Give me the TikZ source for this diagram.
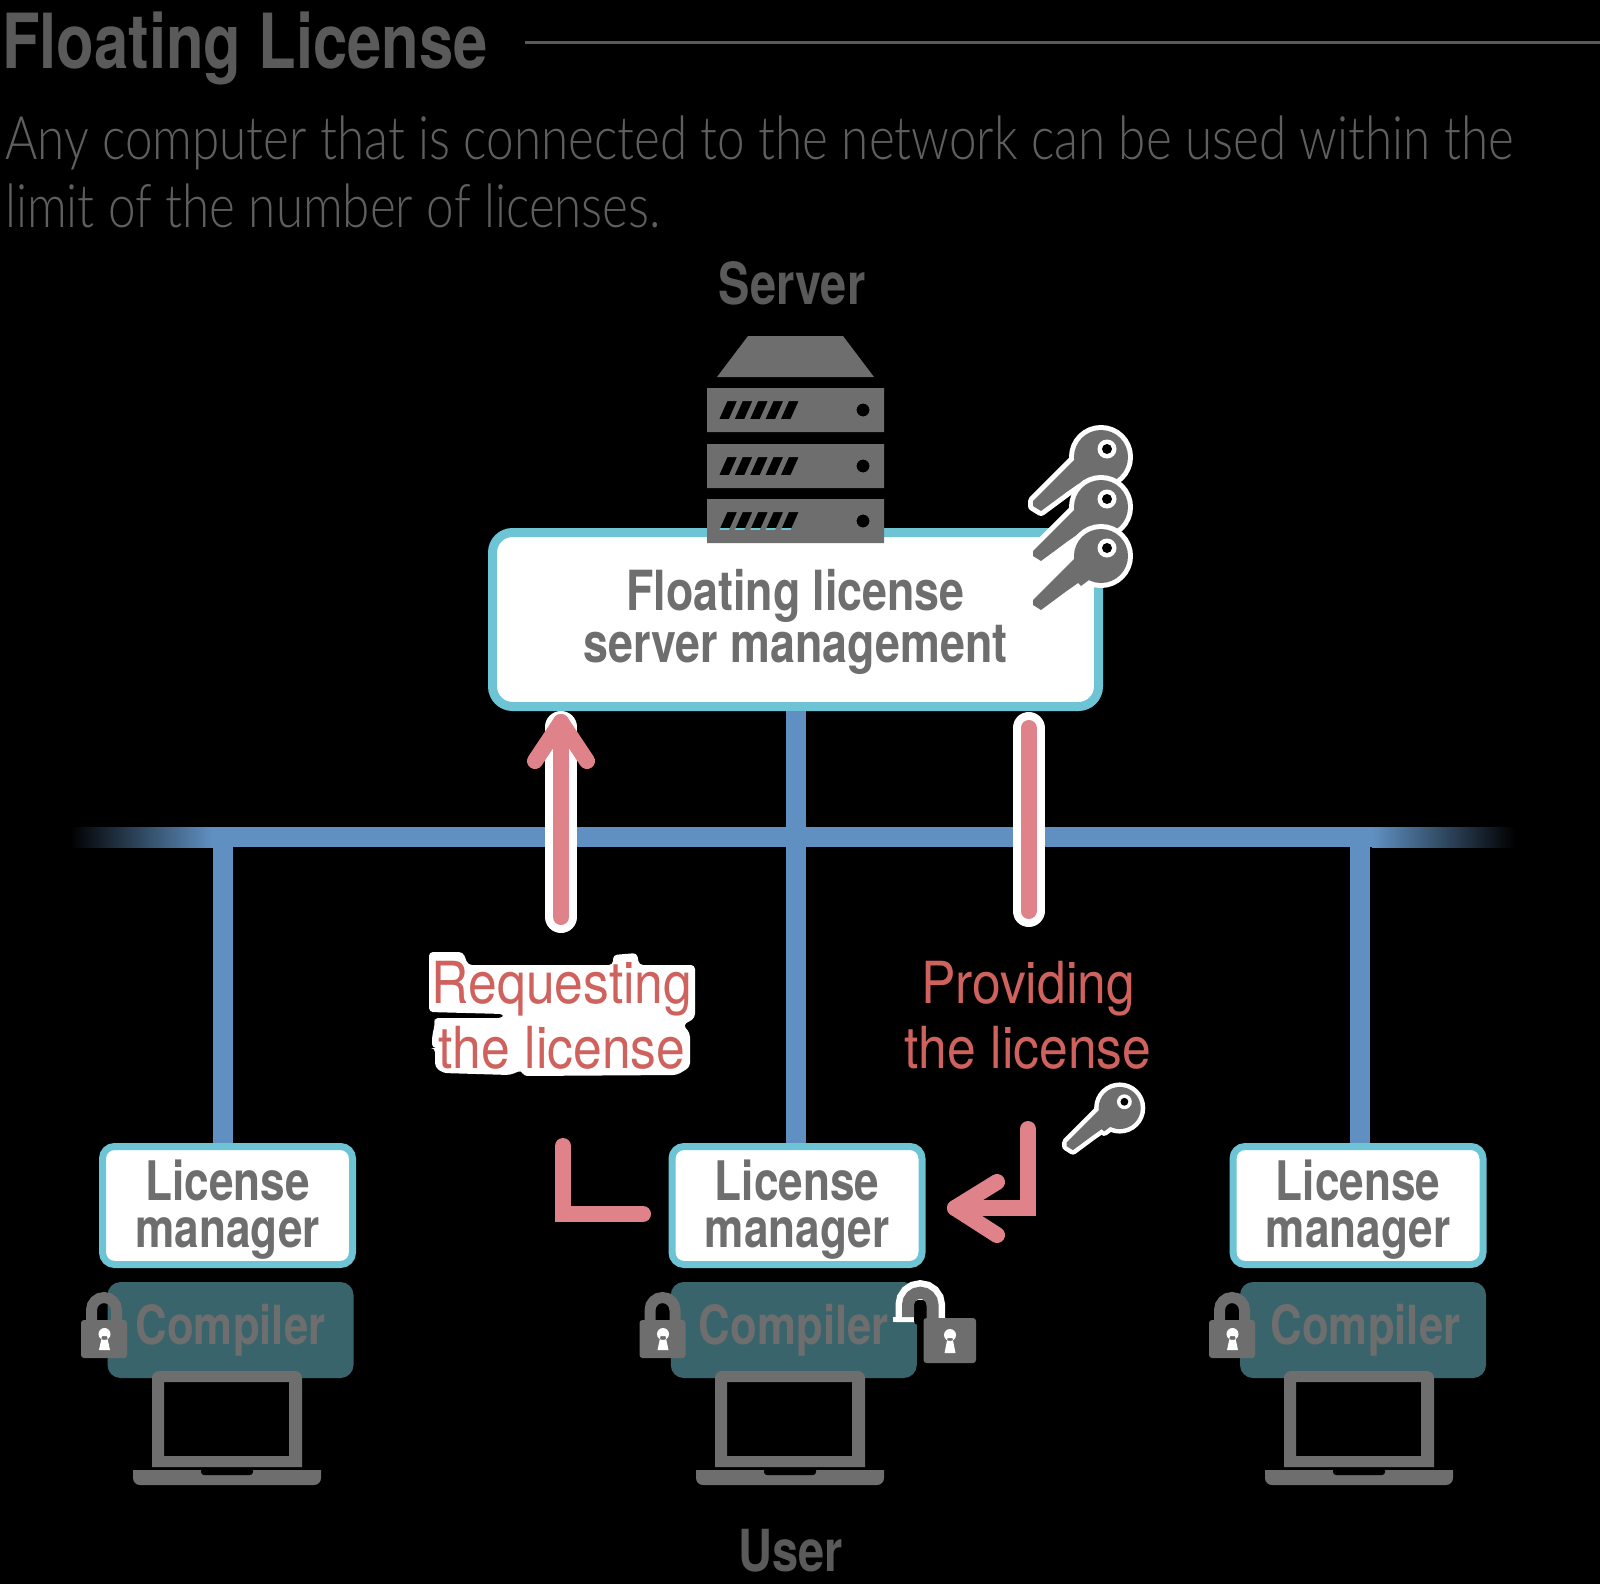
\documentclass[tikz,border=0pt]{standalone}
\usepackage{fontspec}
\setmainfont{TeX Gyre Heros}
\newfontfamily\hbfam[FakeStretch=.81]{TeX Gyre Heros}
\newfontfamily\hrfam[FakeStretch=.89]{TeX Gyre Heros}
\newfontfamily\hlfam[FakeStretch=.823]{Lato Light}
\newcommand{\fsz}[2]{\fontsize{#1}{#2}\selectfont}
\definecolor{bg}{HTML}{000000}
\definecolor{titlegray}{HTML}{5A5A5A}
\definecolor{descgray}{HTML}{5F5F5F}
\definecolor{icongray}{HTML}{6E6E6E}
\definecolor{frameteal}{HTML}{6CC4D4}
\definecolor{compteal}{HTML}{3A646B}
\definecolor{netblue}{HTML}{6090C2}
\definecolor{pinkbar}{HTML}{E0828A}
\definecolor{redtext}{HTML}{D0625E}
\tikzset{
  lmbox/.style={draw=frameteal,fill=white,line width=7pt,rounded corners=12pt,minimum width=250pt,minimum height=118pt,inner sep=0pt,align=center,text=icongray,font=\hbfam\bfseries\fsz{54.5}{47}},
  compbox/.style={fill=compteal,rounded corners=13pt,minimum width=246pt,minimum height=96pt,inner sep=0pt,text=icongray,font=\hbfam\bfseries\fsz{54}{54},text height=40pt,text depth=12pt},
  netline/.style={netblue,line width=20pt},
  pinkline/.style={pinkbar,line width=16pt,line cap=round},
  halo/.style={white,line width=32pt,line cap=round},
  redlabel/.style={text=redtext,align=center,font=\hrfam\fsz{58}{64.5},inner sep=0pt},
}
\newcommand{\LockAt}[2]{\begin{scope}[shift={(#1,#2)}]
  \draw[icongray,line width=11pt] (10.5,30) -- (10.5,18) arc (180:360:12.5) -- (35.5,30);
  \fill[icongray,rounded corners=3pt] (0,28) rectangle (46,66);
  \fill[white] (23.5,42) circle (6) (21,44) -- (18,58) -- (29,58) -- (26,44) -- cycle;
\end{scope}}
\newcommand{\LaptopAt}[2]{\begin{scope}[shift={(#1,#2)}]
  \fill[icongray,even odd rule] [rounded corners=7pt] (0,50) -- (0,0) -- (150,0) -- (150,50) [sharp corners] -- (150,96) -- (0,96) -- cycle (12,11) rectangle (137,85);
  \fill[icongray] [sharp corners] (-19,99) -- (169,99) [rounded corners=7pt] -- (169,114) -- (-19,114) [sharp corners] -- cycle;
  \fill[black,rounded corners=3pt] (49,97) -- (49,104) -- (101,104) -- (101,97) -- cycle;
\end{scope}}
\newcommand{\KeyAt}[4]{\begin{scope}[shift={(#1,#2)},scale=#3]
  \def\keyhead{(0,0) circle (27)}
  \def\keyblade{(-26,2) -- (-68,44) -- (-68,49) -- (-60,54) -- (-33,34) -- (-30,32) -- (-23,27) -- (-20,30) -- (-16,27) -- (-8,21) -- (-8,0) -- cycle}
  \draw[white,line width=#4,line join=round] \keyhead;
  \draw[white,line width=#4,line join=round] \keyblade;
  \fill[icongray] \keyhead;
  \fill[icongray] \keyblade;
  \fill[white] (6,-8) circle (9.5);
  \fill[black] (6,-8) circle (5);
\end{scope}}
\newcommand{\RackAt}[1]{\begin{scope}[shift={(707,#1)}]
  \fill[icongray,even odd rule] (0,0) rectangle (177,44)
    (156,22) circle (6.5)
    \foreach \i in {0,1,2,3,4} { ({12.3+15.4*\i},31) -- ({22+15.4*\i},31) -- ({30+15.4*\i},13) -- ({20.3+15.4*\i},13) -- cycle };
\end{scope}}
\begin{document}
\begin{tikzpicture}[x=1pt,y=-1pt]
\useasboundingbox (0,0) rectangle (1600,1584);
\fill[bg] (0,0) rectangle (1600,1584);

% heading
\node[anchor=base west,inner sep=0pt,text=titlegray,font=\hbfam\bfseries\fsz{76}{76}] (title) at (2,69) {Floating License};
\coordinate (ruleEnd) at (1600,42.5);
\draw[titlegray,line width=3pt] (525,42.5) -- (ruleEnd);
\node[anchor=base west,inner sep=0pt,text=descgray,font=\hlfam\fsz{60}{67}] (desc1) at (5,160) {Any computer that is connected to the network can be used within the};
\node[anchor=base west,inner sep=0pt,text=descgray,font=\hlfam\fsz{60}{67}] (desc2) at (5,227) {limit of the number of licenses.};
\node[anchor=base,inner sep=0pt,text=titlegray,font=\hbfam\bfseries\fsz{58}{58}] (serverlabel) at (792,304) {Server};
\node[anchor=base,inner sep=0pt,text=titlegray,font=\hbfam\bfseries\fsz{58}{58}] (userlabel) at (791,1571) {User};

% boxes
\node[draw=frameteal,fill=white,line width=9pt,rounded corners=20pt,minimum width=606pt,minimum height=174pt,inner sep=0pt,align=center,text=icongray,font=\hbfam\bfseries\fsz{55.3}{52}] (srv) at (795.5,619.5) {\rule{0pt}{46pt}Floating license\\server management};
\node[lmbox] (lmA) at (227.5,1205.5) {\rule{0pt}{48pt}License\\manager};
\node[lmbox] (lmB) at (797,1205.5) {\rule{0pt}{48pt}License\\manager};
\node[lmbox] (lmC) at (1358,1205.5) {\rule{0pt}{48pt}License\\manager};

% network
\coordinate (busL) at (213,837);
\coordinate (busR) at (1372,837);
\coordinate (legA) at (223,837);
\coordinate (legC) at (1360,837);
\shade[left color=black,middle color=netblue!30!black,right color=netblue] (70,827) rectangle (213,847);
\shade[left color=netblue,middle color=netblue!30!black,right color=black] (1372,827) rectangle (1515,847);
\draw[netline] (busL) -- (busR);
\draw[netline] (legA) -- (legA |- lmA.north);
\draw[netline] (legC) -- (legC |- lmC.north);
\draw[netline] (srv.south) -- (srv.south |- lmB.north);

% server icon
\fill[icongray] (748,336) -- (843,336) -- (874,377) -- (717,377) -- cycle;
\RackAt{388}
\RackAt{444}
\RackAt{499}
\KeyAt{1101}{457}{1}{10pt}
\KeyAt{1101}{507}{1}{10pt}
\KeyAt{1101}{556}{1}{10pt}

% request arrow
\coordinate (reqTail) at (561,917);
\coordinate (reqHead) at (561,727);
\coordinate (reqTip) at (561,722);
\coordinate (reqWingL) at (535,761);
\coordinate (reqWingR) at (587,761);
\draw[halo] (reqTail) -- (reqHead);
\draw[pinkline] (reqTail) -- (reqTip);
\draw[pinkline,line join=round] (reqWingL) -- (reqTip) -- (reqWingR);

% providing bar
\coordinate (provTop) at (1028.5,728);
\coordinate (provBot) at (1028.5,911);
\draw[halo] (provTop) -- (provBot);
\draw[pinkline] (provTop) -- (provBot);

% labels
\fill[white,rounded corners=4pt] (429,952) -- (463,952) -- (468,965) -- (613,965) -- (613,955) -- (637,953) -- (639,965) -- (695,965) -- (695,1018) -- (683,1025) -- (690,1033) -- (690,1067) -- (677,1075) -- (523,1076) -- (522,1070) -- (510,1075) -- (443,1073) -- (435,1067) -- (435,1048) -- (432,1048) -- (432,1037) -- (435,1023) -- (434,1018) -- (503,1018) -- (504,1014) -- (429,1012) -- cycle;
\node[redlabel] (reqlabel) at (562,1015.5) {Requesting\\the license};
\node[redlabel] (provlabel) at (1028,1015.5) {Providing\\the license};

% L connectors
\coordinate (lmLeftStart) at (563,1146);
\coordinate (lmLeftEnd) at (643,1214);
\draw[pinkline,line join=miter] (lmLeftStart) |- (lmLeftEnd);
\coordinate (provStart) at (1028,1129);
\coordinate (provCorner) at (1028,1208);
\coordinate (provTip) at (955,1208);
\coordinate (provWingA) at (997,1182);
\coordinate (provWingB) at (997,1235);
\draw[pinkline,line join=miter] (provStart) -- (provCorner) -- (provTip);
\draw[pinkline,line join=round] (provWingA) -- (provTip) -- (provWingB);
\KeyAt{1119.7}{1108}{.78}{9pt}

% compilers
\node[compbox] (compA) at (230.5,1330) {Compiler};
\node[compbox] (compB) at (793.75,1330) {Compiler};
\node[compbox] (compC) at (1363,1330) {\hspace*{5pt}Compiler};
\LockAt{81}{1292}
\LockAt{639.5}{1292}
\LockAt{1209}{1292}
\LaptopAt{152}{1371}
\LaptopAt{715}{1371}
\LaptopAt{1284}{1371}

% open padlock
\draw[white,line width=25pt] (908,1322) -- (908,1305) arc (180:360:12.25) -- (932.5,1322);
\fill[black,rounded corners=4pt] (914,1325) -- (914,1300) -- (927,1300) -- (927,1325) -- cycle;
\draw[icongray,line width=12pt] (908,1317) -- (908,1305) arc (180:360:12.25) -- (932.5,1322);
\fill[white] (893,1317) rectangle (902,1322);
\fill[icongray,rounded corners=3pt] (923.5,1318) rectangle (976,1363);
\fill[white] (950,1335) circle (6) (947.5,1338) -- (944.5,1353) -- (955.5,1353) -- (952.5,1338) -- cycle;
\end{tikzpicture}
\end{document}
